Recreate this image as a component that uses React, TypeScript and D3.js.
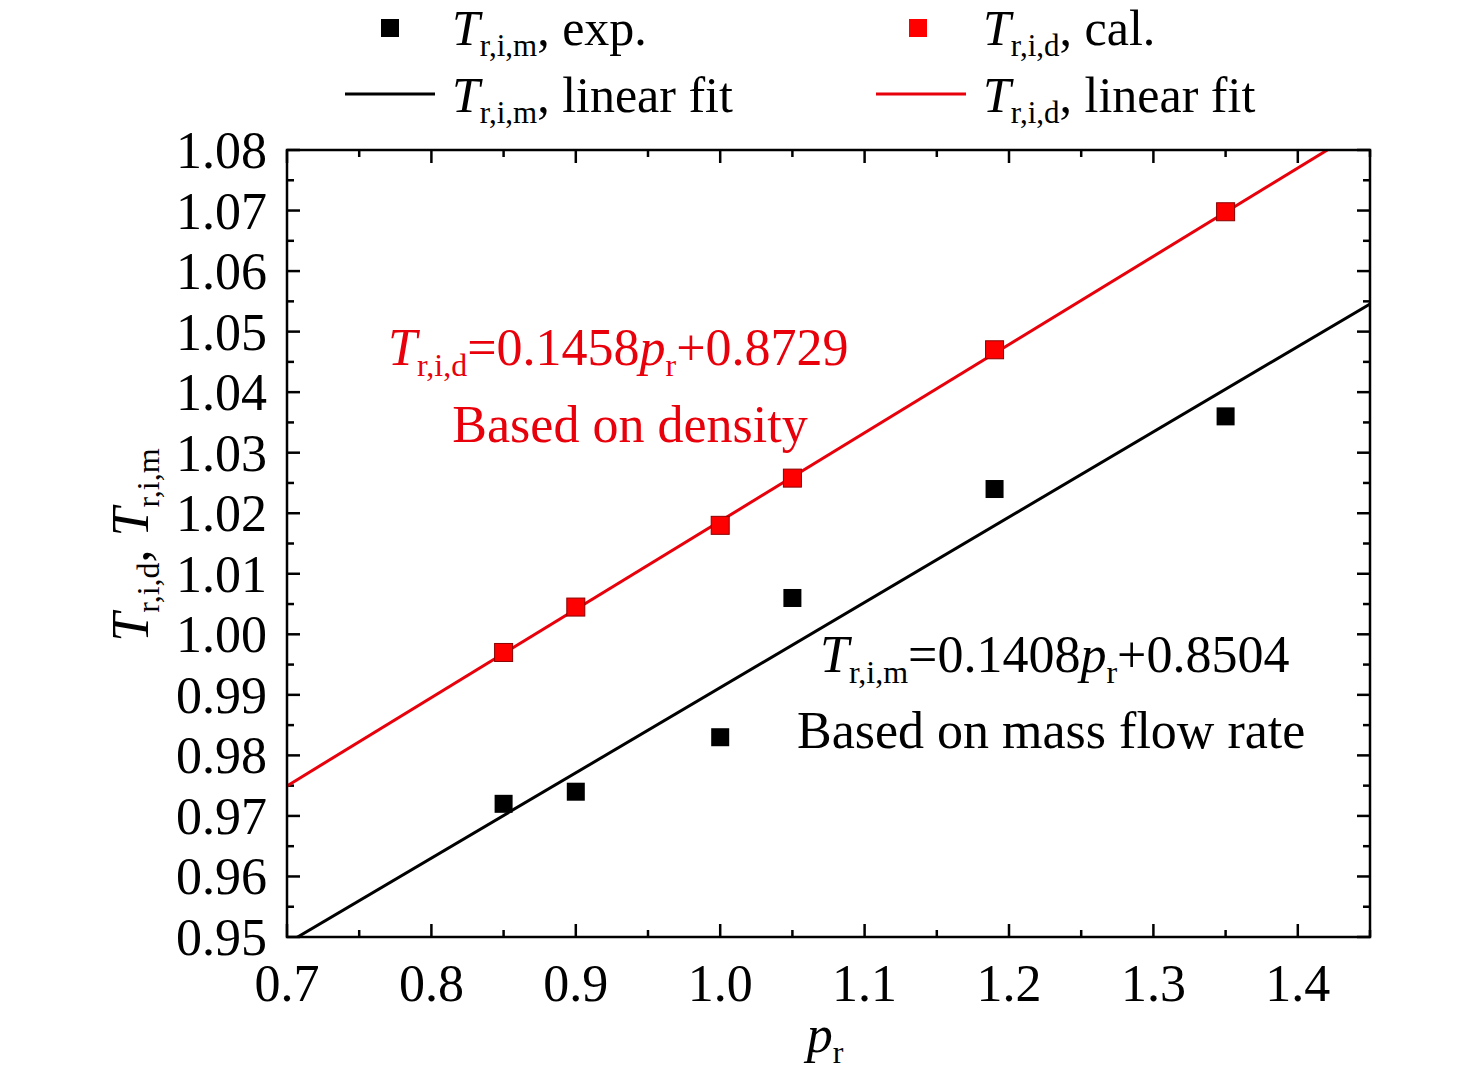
import * as d3 from 'd3';

const pr = [0.85, 0.9, 1.0, 1.05, 1.19, 1.35];
const trimExp = [0.972, 0.974, 0.983, 1.006, 1.024, 1.036];
const tridCal = [0.997, 1.0045, 1.018, 1.0258, 1.047, 1.0698];
const fitM = { k: 0.1408, b: 0.8504 };
const fitD = { k: 0.1458, b: 0.8729 };
const xTicks = [0.7, 0.8, 0.9, 1.0, 1.1, 1.2, 1.3, 1.4];
const yTicks = d3.range(0, 14).map(i => +(0.95 + i * 0.01).toFixed(2));

const F = 'Liberation Serif, Times New Roman, serif';
const L = 287, R = 1370, T = 150, B = 937;

function Lab({ x, y, sub, rest, size, fill = '#000' }: any) {
  const s = size * 0.62, d = size * 0.22;
  return (
    <text x={x} y={y} fontSize={size} fill={fill} fontFamily={F}>
      <tspan fontStyle="italic">T</tspan>
      <tspan fontSize={s} dy={d}>{sub}</tspan>
      <tspan dy={-d}>{rest}</tspan>
    </text>
  );
}

export default function App() {
  const x = d3.scaleLinear().domain([0.7, 1.45]).range([L, R]);
  const y = d3.scaleLinear().domain([0.95, 1.08]).range([B, T]);
  const minorX = d3.range(0, 16).map(i => 0.7 + i * 0.05);
  const minorY = d3.range(0, 27).map(i => 0.95 + i * 0.005);
  const line = (f: { k: number; b: number }) =>
    d3.line<number>().x(v => x(v)).y(v => y(f.k * v + f.b))([0.7, 1.45]) as string;

  return (
    <svg width={1476} height={1066} style={{ position: 'absolute', left: 0, top: 0, background: '#fff' }}>
      <defs>
        <clipPath id="plot"><rect x={L} y={T} width={R - L} height={B - T} /></clipPath>
      </defs>
      {minorX.map((v, i) => (
        <g key={'mx' + i}>
          <line x1={x(v)} x2={x(v)} y1={B} y2={B - (i % 2 ? 7 : 13)} stroke="#000" strokeWidth={2.5} />
          <line x1={x(v)} x2={x(v)} y1={T} y2={T + (i % 2 ? 7 : 13)} stroke="#000" strokeWidth={2.5} />
        </g>
      ))}
      {minorY.map((v, i) => (
        <g key={'my' + i}>
          <line x1={L} x2={L + (i % 2 ? 7 : 13)} y1={y(v)} y2={y(v)} stroke="#000" strokeWidth={2.5} />
          <line x1={R} x2={R - (i % 2 ? 7 : 13)} y1={y(v)} y2={y(v)} stroke="#000" strokeWidth={2.5} />
        </g>
      ))}
      {xTicks.map(t => (
        <text key={t} x={x(t)} y={B + 64} fontSize={52} textAnchor="middle" fontFamily={F}>{t.toFixed(1)}</text>
      ))}
      {yTicks.map(t => (
        <text key={t} x={L - 20} y={y(t) + 18} fontSize={52} textAnchor="end" fontFamily={F}>{t.toFixed(2)}</text>
      ))}
      <g clipPath="url(#plot)">
        <path d={line(fitD)} stroke="#e8000b" strokeWidth={3} fill="none" />
        <path d={line(fitM)} stroke="#000" strokeWidth={3} fill="none" />
      </g>
      {pr.map((p, i) => (
        <rect key={'m' + i} x={x(p) - 9} y={y(trimExp[i]) - 9} width={18} height={18} fill="#000" />
      ))}
      {pr.map((p, i) => (
        <rect key={'d' + i} x={x(p) - 9} y={y(tridCal[i]) - 9} width={18} height={18} fill="#ff0000" stroke="#8b0000" strokeWidth={1} />
      ))}
      <rect x={L} y={T} width={R - L} height={B - T} fill="none" stroke="#000" strokeWidth={2.5} />

      <text x={825} y={1052} fontSize={52} textAnchor="middle" fontFamily={F}>
        <tspan fontStyle="italic">p</tspan><tspan fontSize={32} dy={11}>r</tspan>
      </text>
      <g transform="translate(148,545) rotate(-90)">
        <text x={0} y={0} fontSize={52} textAnchor="middle" fontFamily={F}>
          <tspan fontStyle="italic">T</tspan><tspan fontSize={32} dy={11}>r,i,d</tspan>
          <tspan dy={-11}>, </tspan>
          <tspan fontStyle="italic">T</tspan><tspan fontSize={32} dy={11}>r,i,m</tspan>
        </text>
      </g>

      <text x={388} y={365} fontSize={52} fill="#e8000b" fontFamily={F}>
        <tspan fontStyle="italic">T</tspan><tspan fontSize={32} dy={11}>r,i,d</tspan>
        <tspan dy={-11}>=0.1458</tspan><tspan fontStyle="italic">p</tspan>
        <tspan fontSize={32} dy={11}>r</tspan><tspan dy={-11}>+0.8729</tspan>
      </text>
      <text x={630} y={442} fontSize={52} fill="#e8000b" textAnchor="middle" fontFamily={F}>Based on density</text>
      <text x={820} y={672} fontSize={52} fontFamily={F}>
        <tspan fontStyle="italic">T</tspan><tspan fontSize={32} dy={11}>r,i,m</tspan>
        <tspan dy={-11}>=0.1408</tspan><tspan fontStyle="italic">p</tspan>
        <tspan fontSize={32} dy={11}>r</tspan><tspan dy={-11}>+0.8504</tspan>
      </text>
      <text x={797} y={748} fontSize={52} fontFamily={F}>Based on mass flow rate</text>

      <rect x={381} y={19} width={18} height={18} fill="#000" />
      <Lab x={452} y={45} sub="r,i,m" rest=", exp." size={50} />
      <rect x={909} y={19} width={18} height={18} fill="#ff0000" />
      <Lab x={983} y={45} sub="r,i,d" rest=", cal." size={50} />
      <line x1={345} x2={435} y1={94} y2={94} stroke="#000" strokeWidth={3} />
      <Lab x={452} y={112} sub="r,i,m" rest=", linear fit" size={50} />
      <line x1={876} x2={966} y1={94} y2={94} stroke="#e8000b" strokeWidth={3} />
      <Lab x={983} y={112} sub="r,i,d" rest=", linear fit" size={50} />
    </svg>
  );
}
